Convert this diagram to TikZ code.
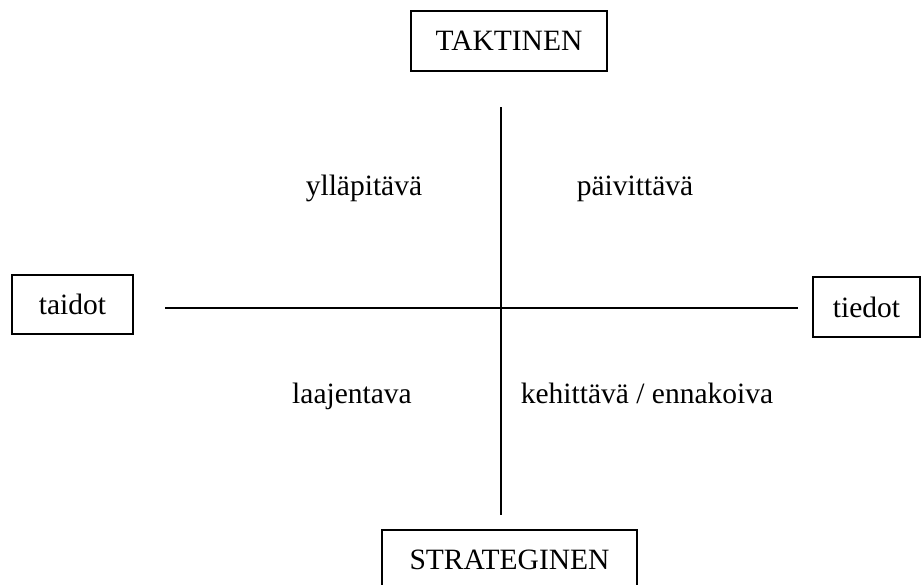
\documentclass[tikz,border=0pt]{standalone}
\usepackage{fontspec}
\setmainfont{Liberation Serif}
\usetikzlibrary{positioning}

\begin{document}
\begin{tikzpicture}[x=1pt, y=-1pt,
  every label box/.style={draw, line width=1.2pt, inner sep=0pt, align=center,
    font=\fontsize{29.5}{35}\selectfont},
  quadrant text/.style={anchor=base, font=\fontsize{29.5}{35}\selectfont},
  axis/.style={line width=1.3pt}]

\useasboundingbox (0,0) rectangle (921,584);

\node [every label box, minimum width=196pt, minimum height=60pt] (taktinen) at (509,41) {TAKTINEN};
\node [every label box, minimum width=255pt, minimum height=60pt] (strateginen) at (509.5,560) {STRATEGINEN};
\node [every label box, minimum width=121pt, minimum height=59pt] (taidot) at (72.5,304.5) {taidot};
\node [every label box, minimum width=107pt, minimum height=60pt] (tiedot) at (866.5,307) {tiedot};

\coordinate (axis-top) at (501,107);
\coordinate (axis-bottom) at (501,515);
\coordinate (axis-left) at (165,308);
\coordinate (axis-right) at (798,308);

\draw [axis] (axis-top) -- (axis-bottom);
\draw [axis] (axis-left) -- (axis-right);

\node [quadrant text] (yllapitava) at (364,195) {ylläpitävä};
\node [quadrant text] (paivittava) at (635,195) {päivittävä};
\node [quadrant text] (laajentava) at (352,403) {laajentava};
\node [quadrant text] (kehittava) at (647,403) {kehittävä / ennakoiva};

\end{tikzpicture}
\end{document}
